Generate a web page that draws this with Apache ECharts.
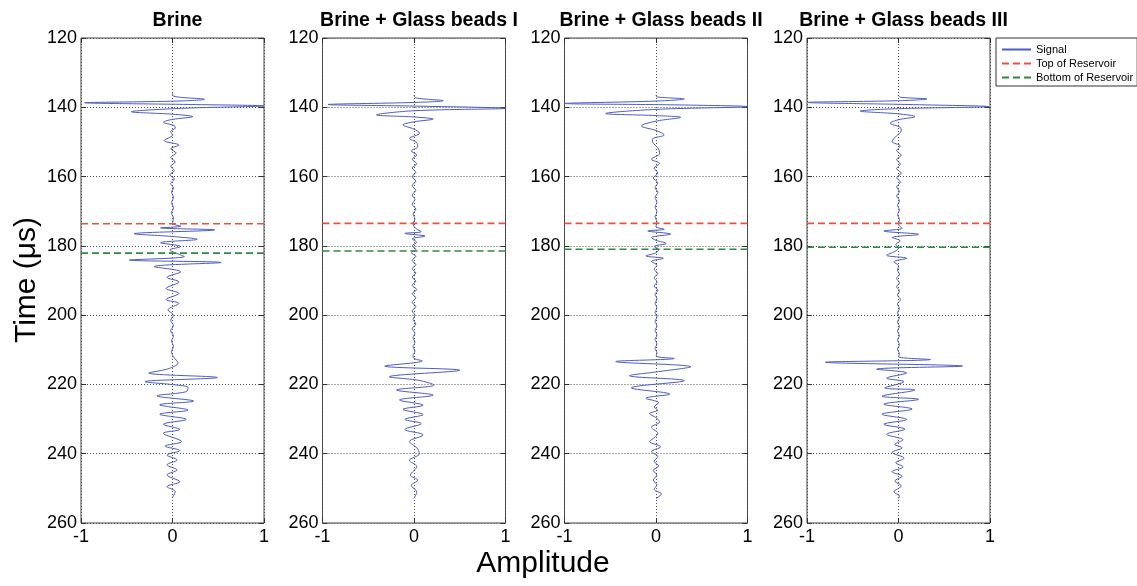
<!DOCTYPE html>
<html>
<head>
<meta charset="utf-8">
<script src="https://cdn.jsdelivr.net/npm/echarts@6/dist/echarts.min.js"></script>
<style>
html,body{margin:0;padding:0;background:#fff;}
#chart{width:1137px;height:586px;}
</style>
</head>
<body>
<div id="chart"></div>
<script>
// ---------------- DATA ----------------
const panelTitles = ['Brine', 'Brine + Glass beads I', 'Brine + Glass beads II', 'Brine + Glass beads III'];
const legendNames = ['Signal', 'Top of Reservoir', 'Bottom of Reservoir'];

// Reservoir boundaries (µs) per panel
const topReservoir = [173.6, 173.5, 173.5, 173.5];
const bottomReservoir = [182.1, 181.5, 181.0, 180.4];

// Panel 1: Brine
const brineTime = [135.8,136.8,137.7,138.2,138.7,139.2,139.6,140.3,141.3,142.0,142.7,143.5,144.3,145.3,146.0,147.0,148.0,149.6,150.9,152.0,153.2,154.5,155.8,157.0,158.3,159.5,160.7,162.0,163.3,164.5,166.0,167.5,169.0,170.5,172.0,173.5,174.3,174.8,175.4,176.5,177.3,178.1,179.1,180.2,181.2,182.2,183.1,184.1,184.8,186.0,187.5,189.1,190.4,192.3,193.7,195.5,196.6,198.5,200.0,201.5,203.0,204.5,206.0,207.5,209.0,210.5,212.0,213.8,215.5,216.7,218.0,219.2,220.2,220.9,222.1,223.3,224.8,225.9,227.4,228.6,230.1,231.5,233.0,234.1,236.5,237.8,239.1,240.4,241.8,243.2,244.7,246.1,248.1,249.5,251.0,252.6];
const brineAmp  = [0.00,0.01,0.35,0.05,-0.96,0.20,1.00,0.10,-0.45,0.00,0.22,0.00,-0.10,0.02,0.03,-0.02,0.00,-0.09,0.07,-0.02,0.04,-0.02,0.03,-0.02,0.02,-0.03,0.02,-0.02,0.01,-0.01,0.01,-0.01,0.01,-0.01,0.01,0.00,0.09,-0.13,0.46,-0.42,0.00,0.27,-0.13,0.09,-0.03,0.05,0.13,-0.47,0.53,-0.20,0.09,-0.06,0.07,-0.07,0.07,-0.07,0.07,-0.05,0.01,-0.02,0.01,-0.02,0.01,-0.01,0.01,-0.01,0.01,0.06,-0.05,-0.26,0.49,-0.30,0.05,0.17,0.15,-0.17,0.23,-0.14,0.17,-0.14,0.15,-0.10,0.08,-0.10,0.10,-0.08,0.08,-0.06,0.05,-0.06,0.05,-0.06,0.08,-0.06,0.03,0.00];

// Panel 2: Brine + Glass beads I
const beads1Time = [136.5,137.3,138.1,138.6,139.2,139.7,140.3,141.0,142.2,142.8,143.4,144.2,145.1,146.3,147.5,149.0,150.2,151.4,152.6,153.8,155.0,156.3,157.5,158.8,160.0,161.3,162.6,164.0,165.3,166.6,168.0,169.4,170.8,172.2,173.6,175.0,175.9,176.4,177.2,178.0,179.0,180.0,181.0,182.0,183.0,184.2,185.4,186.6,187.8,189.0,190.2,191.4,192.6,193.8,195.0,196.3,197.5,198.8,200.0,201.3,202.6,203.9,205.2,206.5,207.8,209.1,210.4,211.7,212.5,213.2,214.7,215.9,217.8,218.8,220.2,221.6,223.1,224.5,226.0,227.2,228.7,230.1,231.3,233.0,234.6,236.5,238.3,240.0,241.9,243.7,246.2,247.6,249.2,251.0,252.9];
const beads1Amp  = [0.00,0.02,0.32,0.00,-0.94,0.10,1.00,0.00,-0.41,0.00,0.21,0.00,-0.12,0.00,0.06,-0.05,0.03,0.04,-0.03,0.03,-0.02,0.03,-0.02,0.02,-0.02,0.02,-0.02,0.02,-0.02,0.01,-0.02,0.02,-0.01,0.01,-0.01,0.02,0.08,-0.10,0.12,-0.02,0.03,-0.02,0.02,-0.03,0.02,-0.02,0.02,-0.02,0.02,-0.02,0.02,-0.02,0.03,-0.02,0.02,-0.02,0.02,-0.02,0.01,-0.01,0.02,-0.02,0.01,-0.01,0.01,-0.01,0.01,-0.01,0.00,0.09,-0.32,0.50,-0.27,0.05,0.22,-0.19,0.21,-0.16,0.10,-0.12,0.10,-0.10,0.08,-0.10,0.10,-0.05,0.03,0.06,-0.05,0.03,-0.04,0.04,-0.03,0.03,0.00];

// Panel 3: Brine + Glass beads II
const beads2Time = [136.5,137.0,137.6,138.2,138.9,139.3,139.8,140.6,141.8,142.4,142.9,144.0,145.4,146.7,148.0,149.2,150.4,151.7,153.3,155.0,156.2,157.6,159.0,160.4,161.8,163.2,164.6,166.0,167.4,168.8,170.2,171.6,173.0,174.4,175.2,175.7,176.6,177.6,178.4,179.3,180.2,181.0,182.0,182.9,183.6,184.5,185.6,186.8,188.0,189.2,190.4,191.6,192.8,194.0,195.3,196.6,197.9,199.2,200.5,201.8,203.1,204.4,205.7,207.0,208.3,209.6,210.9,211.8,212.5,213.4,214.9,216.3,217.5,218.9,221.0,222.8,224.0,225.3,226.5,227.4,228.4,229.6,230.8,232.4,234.1,235.2,236.5,238.0,239.4,240.8,242.2,243.5,244.8,246.2,247.6,249.0,250.3,251.6,252.9];
const beads2Amp  = [0.00,0.01,0.31,0.00,-1.00,0.20,1.00,0.00,-0.55,0.00,0.27,0.00,-0.16,0.00,0.09,-0.04,-0.03,0.02,0.04,-0.05,0.04,-0.02,0.02,-0.03,0.02,-0.01,0.02,-0.01,0.01,-0.01,0.01,-0.01,0.01,0.00,0.09,-0.09,0.16,-0.05,0.00,0.11,-0.02,0.03,0.00,-0.11,0.08,-0.05,0.01,-0.02,0.02,-0.02,0.01,-0.02,0.02,-0.01,0.01,-0.01,0.01,-0.01,0.01,-0.01,0.01,-0.01,0.01,-0.01,0.01,-0.01,0.01,0.00,0.20,-0.44,0.38,0.03,-0.29,0.31,-0.27,0.15,-0.11,0.03,-0.02,0.02,-0.07,0.00,0.04,-0.05,0.02,-0.01,-0.07,0.05,-0.05,0.02,-0.02,0.03,-0.03,0.01,-0.03,0.01,-0.02,0.06,0.00];

// Panel 4: Brine + Glass beads III
const beads3Time = [136.7,137.1,137.6,138.1,138.6,139.2,139.8,140.4,141.1,141.9,142.7,143.6,144.6,145.8,146.8,148.2,149.9,151.2,152.5,153.8,155.1,156.4,157.7,159.0,160.3,161.6,163.0,164.3,165.6,167.0,168.3,169.6,171.0,172.4,173.8,174.9,175.7,176.7,177.6,178.6,179.6,180.6,181.6,182.7,183.6,184.6,185.8,187.0,188.2,189.4,190.6,191.8,193.0,194.2,195.5,196.8,198.1,199.4,200.7,202.0,203.3,204.6,205.9,207.2,208.5,209.8,211.1,212.0,212.8,213.6,214.7,215.6,216.7,218.2,219.2,221.0,221.6,223.4,224.3,225.7,227.1,228.6,230.1,231.5,232.9,234.4,236.0,237.3,238.3,239.6,241.3,242.6,243.8,245.2,246.5,247.9,249.3,251.0,252.2,252.9];
const beads3Amp  = [0.00,0.02,0.31,0.00,-0.99,0.10,0.99,0.00,-0.42,0.00,0.18,0.00,-0.09,0.02,0.03,-0.02,-0.07,0.02,-0.02,0.03,-0.02,0.02,-0.02,0.03,-0.02,0.02,-0.02,0.01,-0.02,0.01,-0.01,0.01,-0.01,0.01,0.00,0.04,-0.16,0.22,-0.07,0.02,-0.03,0.00,-0.04,-0.13,0.09,-0.05,0.00,-0.01,0.01,-0.02,0.01,-0.02,0.01,-0.01,0.02,-0.01,0.01,-0.01,0.01,-0.01,0.01,-0.01,0.01,-0.01,0.01,-0.01,0.01,0.00,0.35,-0.80,0.70,-0.24,0.09,-0.13,0.06,-0.15,0.18,-0.18,0.22,-0.16,0.15,-0.18,0.09,-0.16,0.07,-0.13,0.05,-0.04,0.04,-0.07,0.06,-0.03,0.05,-0.07,0.04,-0.04,0.03,-0.05,0.01,0.00];

const signalTimes = [brineTime, beads1Time, beads2Time, beads3Time];
const signalAmps = [brineAmp, beads1Amp, beads2Amp, beads3Amp];

// ---------------- LAYOUT / STYLE ----------------
const FONT = '"Liberation Sans", Arial, Helvetica, sans-serif';
const gridLefts = [81, 322.5, 564.5, 807];
const gridW = 183, gridTop = 38, gridH = 485;
const signalColor = '#4c5cc2';
const topColor = '#f0503a';
const bottomColor = '#2f8a3e';
const gridLineStyle = { color: '#555', type: [1, 2], width: 1 };
const tickStyle = { show: true, inside: true, length: 5, lineStyle: { color: '#333' } };

const grids = [], xAxes = [], yAxes = [], series = [], titles = [];
for (let i = 0; i < 4; i++) {
  grids.push({ left: gridLefts[i], top: gridTop, width: gridW, height: gridH, show: true, borderColor: '#444', borderWidth: 1, backgroundColor: '#fff' });
  titles.push({ text: panelTitles[i], left: gridLefts[i] + gridW / 2, top: 6, textAlign: 'center',
    textStyle: { fontFamily: FONT, fontSize: 19.5, fontWeight: 'bold', color: '#000' } });
}
for (let i = 0; i < 4; i++) {
  xAxes.push({ type: 'value', gridIndex: i, min: -1, max: 1, interval: 1, position: 'bottom',
    axisLine: { show: false, onZero: false }, axisTick: tickStyle,
    axisLabel: { fontFamily: FONT, fontSize: 18, color: '#000', margin: 5 },
    splitLine: { show: true, lineStyle: gridLineStyle } });
}
for (let i = 0; i < 4; i++) {
  xAxes.push({ type: 'value', gridIndex: i, min: -1, max: 1, interval: 1, position: 'top',
    axisLine: { show: false, onZero: false }, axisTick: tickStyle,
    axisLabel: { show: false }, splitLine: { show: false } });
}
for (let i = 0; i < 4; i++) {
  yAxes.push({ type: 'value', gridIndex: i, min: 120, max: 260, interval: 20, inverse: true, position: 'left',
    axisLine: { show: false, onZero: false }, axisTick: tickStyle,
    axisLabel: { fontFamily: FONT, fontSize: 18, color: '#000', margin: 4 },
    splitLine: { show: true, lineStyle: gridLineStyle } });
}
for (let i = 0; i < 4; i++) {
  yAxes.push({ type: 'value', gridIndex: i, min: 120, max: 260, interval: 20, inverse: true, position: 'right',
    axisLine: { show: false, onZero: false }, axisTick: tickStyle,
    axisLabel: { show: false }, splitLine: { show: false } });
}
for (let i = 0; i < 4; i++) {
  const pts = signalTimes[i].map((t, k) => [signalAmps[i][k], t]);
  series.push({ name: legendNames[0], type: 'line', xAxisIndex: i, yAxisIndex: i, data: pts,
    symbol: 'none', smooth: 0.35, lineStyle: { color: signalColor, width: 1 }, itemStyle: { color: signalColor }, z: 2 });
  series.push({ name: legendNames[1], type: 'line', xAxisIndex: i, yAxisIndex: i,
    data: [[-1, topReservoir[i]], [1, topReservoir[i]]],
    symbol: 'none', lineStyle: { color: topColor, width: 1.6, type: [7, 4] }, itemStyle: { color: topColor }, z: 3 });
  series.push({ name: legendNames[2], type: 'line', xAxisIndex: i, yAxisIndex: i,
    data: [[-1, bottomReservoir[i]], [1, bottomReservoir[i]]],
    symbol: 'none', lineStyle: { color: bottomColor, width: 1.6, type: [7, 4] }, itemStyle: { color: bottomColor }, z: 3 });
}

const chart = echarts.init(document.getElementById('chart'), null, { renderer: 'canvas' });
chart.setOption({
  animation: false,
  backgroundColor: '#fff',
  title: titles,
  legend: {
    data: legendNames, orient: 'vertical', left: 996, top: 38,
    padding: [6, 4, 3, 5], itemGap: 3, itemWidth: 29, itemHeight: 12,
    borderColor: '#333', borderWidth: 1, backgroundColor: '#fff', borderRadius: 0,
    itemStyle: { opacity: 0, borderWidth: 0 },
    textStyle: { fontFamily: FONT, fontSize: 11, color: '#000' },
    selectedMode: false
  },
  grid: grids,
  xAxis: xAxes,
  yAxis: yAxes,
  series: series,
  graphic: [
    { type: 'text', x: 27, y: 280, rotation: Math.PI / 2,
      style: { text: 'Time (\u03bcs)', fontFamily: FONT, fontSize: 30, fill: '#000', textAlign: 'center', textVerticalAlign: 'middle' } },
    { type: 'text', x: 543, y: 564,
      style: { text: 'Amplitude', fontFamily: FONT, fontSize: 30, fill: '#000', textAlign: 'center', textVerticalAlign: 'middle' } }
  ]
});
</script>
</body>
</html>
